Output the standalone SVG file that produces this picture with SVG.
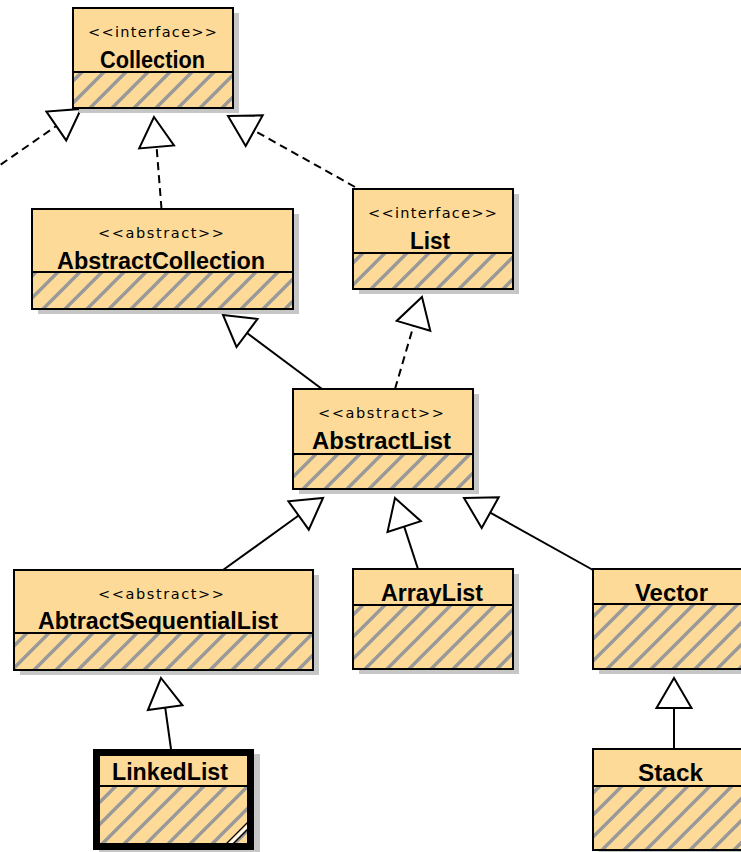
<svg xmlns="http://www.w3.org/2000/svg" width="741" height="852" viewBox="0 0 741 852">
<defs>
<pattern id="h" patternUnits="userSpaceOnUse" width="22" height="22">
<rect width="22" height="22" fill="#FEDA98"/>
<path d="M-3,3 L3,-3 M0,22 L22,0 M19,25 L25,19" stroke="#999999" stroke-width="3.4"/>
</pattern>
</defs>
<style>
.sh{fill:#C6C6C6}
.bx{fill:#FEDA98}
.ht{fill:url(#h)}
.bd{fill:none;stroke:#000;stroke-width:2}
.dv{stroke:#000;stroke-width:2}
.st{font-family:'DejaVu Sans','Liberation Sans',sans-serif;font-size:14.5px;text-anchor:middle;fill:#000}
.nm{font-family:'Liberation Sans','DejaVu Sans',sans-serif;font-size:23px;font-weight:bold;text-anchor:middle;fill:#000}
.ln{fill:none;stroke:#000;stroke-width:2}
.ds{fill:none;stroke:#000;stroke-width:2;stroke-dasharray:8 5}
.tr{fill:#fff;stroke:#000;stroke-width:2;stroke-linejoin:miter}
</style>

<g id="connectors">
<line class="ds" x1="-10" y1="172" x2="56.3" y2="126"/>
<polygon class="tr" points="81,109 66.2,140.4 46.4,111.6"/>
<line class="ds" x1="161.5" y1="209" x2="156.6" y2="147"/>
<polygon class="tr" points="154,117 174,145.4 139.2,148.4"/>
<line class="ds" x1="355" y1="187" x2="254.2" y2="130.6"/>
<polygon class="tr" points="228,116 262.7,115.3 245.7,145.9"/>
<line class="ln" x1="322" y1="389" x2="247" y2="333"/>
<polygon class="tr" points="223,315 257.5,319 236.5,347"/>
<line class="ds" x1="395" y1="389" x2="413.5" y2="325.8"/>
<polygon class="tr" points="422,297 430.3,330.7 396.7,320.9"/>
<line class="ln" x1="223" y1="570" x2="298.6" y2="515.5"/>
<polygon class="tr" points="323,498 308.8,529.7 288.4,501.3"/>
<line class="ln" x1="418" y1="569" x2="404.2" y2="526.6"/>
<polygon class="tr" points="395,498 420.9,521.2 387.5,532"/>
<line class="ln" x1="593" y1="570" x2="490.2" y2="512.6"/>
<polygon class="tr" points="464,498 498.7,497.3 481.7,527.9"/>
<line class="ln" x1="171" y1="749" x2="165.2" y2="707.7"/>
<polygon class="tr" points="161,678 182.5,705.3 147.9,710.1"/>
<line class="ln" x1="674" y1="749" x2="674" y2="708"/>
<polygon class="tr" points="674,678 691.5,708 656.5,708"/>
</g>

<g id="Collection">
<rect class="sh" x="79" y="13" width="160" height="100"/>
<rect class="bx" x="73" y="8" width="160" height="64"/>
<rect class="ht" x="73" y="72" width="160" height="36"/>
<rect class="bd" x="73" y="8" width="160" height="100"/>
<line class="dv" x1="73" y1="72" x2="233" y2="72"/>
<text class="st" x="152.5" y="37" textLength="129" lengthAdjust="spacing">&lt;&lt;interface&gt;&gt;</text>
<text class="nm" x="152.5" y="68" textLength="105" lengthAdjust="spacingAndGlyphs">Collection</text>
</g>

<g id="AbstractCollection">
<rect class="sh" x="38" y="214" width="261" height="100"/>
<rect class="bx" x="32" y="209" width="261" height="63"/>
<rect class="ht" x="32" y="272" width="261" height="37"/>
<rect class="bd" x="32" y="209" width="261" height="100"/>
<line class="dv" x1="32" y1="272" x2="293" y2="272"/>
<text class="st" x="161" y="238" textLength="126" lengthAdjust="spacing">&lt;&lt;abstract&gt;&gt;</text>
<text class="nm" x="161" y="269" textLength="208" lengthAdjust="spacingAndGlyphs">AbstractCollection</text>
</g>

<g id="List">
<rect class="sh" x="359" y="194" width="160" height="100"/>
<rect class="bx" x="353" y="189" width="160" height="64"/>
<rect class="ht" x="353" y="253" width="160" height="36"/>
<rect class="bd" x="353" y="189" width="160" height="100"/>
<line class="dv" x1="353" y1="253" x2="513" y2="253"/>
<text class="st" x="432.5" y="217.5" textLength="129" lengthAdjust="spacing">&lt;&lt;interface&gt;&gt;</text>
<text class="nm" x="430" y="249" textLength="40" lengthAdjust="spacingAndGlyphs">List</text>
</g>

<g id="AbstractList">
<rect class="sh" x="299" y="394" width="180" height="100"/>
<rect class="bx" x="293" y="389" width="180" height="65"/>
<rect class="ht" x="293" y="454" width="180" height="35"/>
<rect class="bd" x="293" y="389" width="180" height="100"/>
<line class="dv" x1="293" y1="454" x2="473" y2="454"/>
<text class="st" x="381" y="417.5" textLength="126" lengthAdjust="spacing">&lt;&lt;abstract&gt;&gt;</text>
<text class="nm" x="381.5" y="449" textLength="139" lengthAdjust="spacingAndGlyphs">AbstractList</text>
</g>

<g id="AbtractSequentialList">
<rect class="sh" x="20" y="575" width="299" height="100"/>
<rect class="bx" x="14" y="570" width="299" height="63"/>
<rect class="ht" x="14" y="633" width="299" height="37"/>
<rect class="bd" x="14" y="570" width="299" height="100"/>
<line class="dv" x1="14" y1="633" x2="313" y2="633"/>
<text class="st" x="161" y="598.5" textLength="126" lengthAdjust="spacing">&lt;&lt;abstract&gt;&gt;</text>
<text class="nm" x="158" y="629" textLength="240" lengthAdjust="spacingAndGlyphs">AbtractSequentialList</text>
</g>

<g id="ArrayList">
<rect class="sh" x="359" y="574" width="160" height="100"/>
<rect class="bx" x="353" y="569" width="160" height="36"/>
<rect class="ht" x="353" y="605" width="160" height="64"/>
<rect class="bd" x="353" y="569" width="160" height="100"/>
<line class="dv" x1="353" y1="605" x2="513" y2="605"/>
<text class="nm" x="432" y="601" textLength="102" lengthAdjust="spacingAndGlyphs">ArrayList</text>
</g>

<g id="Vector">
<rect class="sh" x="599" y="574" width="160" height="100"/>
<rect class="bx" x="593" y="569" width="160" height="35"/>
<rect class="ht" x="593" y="604" width="160" height="65"/>
<rect class="bd" x="593" y="569" width="160" height="100"/>
<line class="dv" x1="593" y1="604" x2="753" y2="604"/>
<text class="nm" x="671.5" y="601" textLength="73" lengthAdjust="spacingAndGlyphs">Vector</text>
</g>

<g id="LinkedList">
<rect class="sh" x="99" y="754" width="161" height="101"/>
<rect class="bx" x="93" y="749" width="161" height="37"/>
<rect class="ht" x="93" y="786" width="161" height="64"/>
<line class="dv" x1="93" y1="786" x2="254" y2="786"/>
<path d="M224,846 L250,820 M231,846 L250,827" stroke="#000" stroke-width="1.2" fill="none"/>
<path d="M227.5,846 L250,823.5" stroke="#fff" stroke-width="2" fill="none"/>
<rect x="96.5" y="752.5" width="154" height="94" fill="none" stroke="#000" stroke-width="7"/>
<text class="nm" x="170" y="780" textLength="116" lengthAdjust="spacingAndGlyphs">LinkedList</text>
</g>

<g id="Stack">
<rect class="sh" x="599" y="754" width="160" height="101"/>
<rect class="bx" x="593" y="749" width="160" height="37"/>
<rect class="ht" x="593" y="786" width="160" height="64"/>
<rect class="bd" x="593" y="749" width="160" height="101"/>
<line class="dv" x1="593" y1="786" x2="753" y2="786"/>
<text class="nm" x="670.5" y="781" textLength="65" lengthAdjust="spacingAndGlyphs">Stack</text>
</g>
</svg>
